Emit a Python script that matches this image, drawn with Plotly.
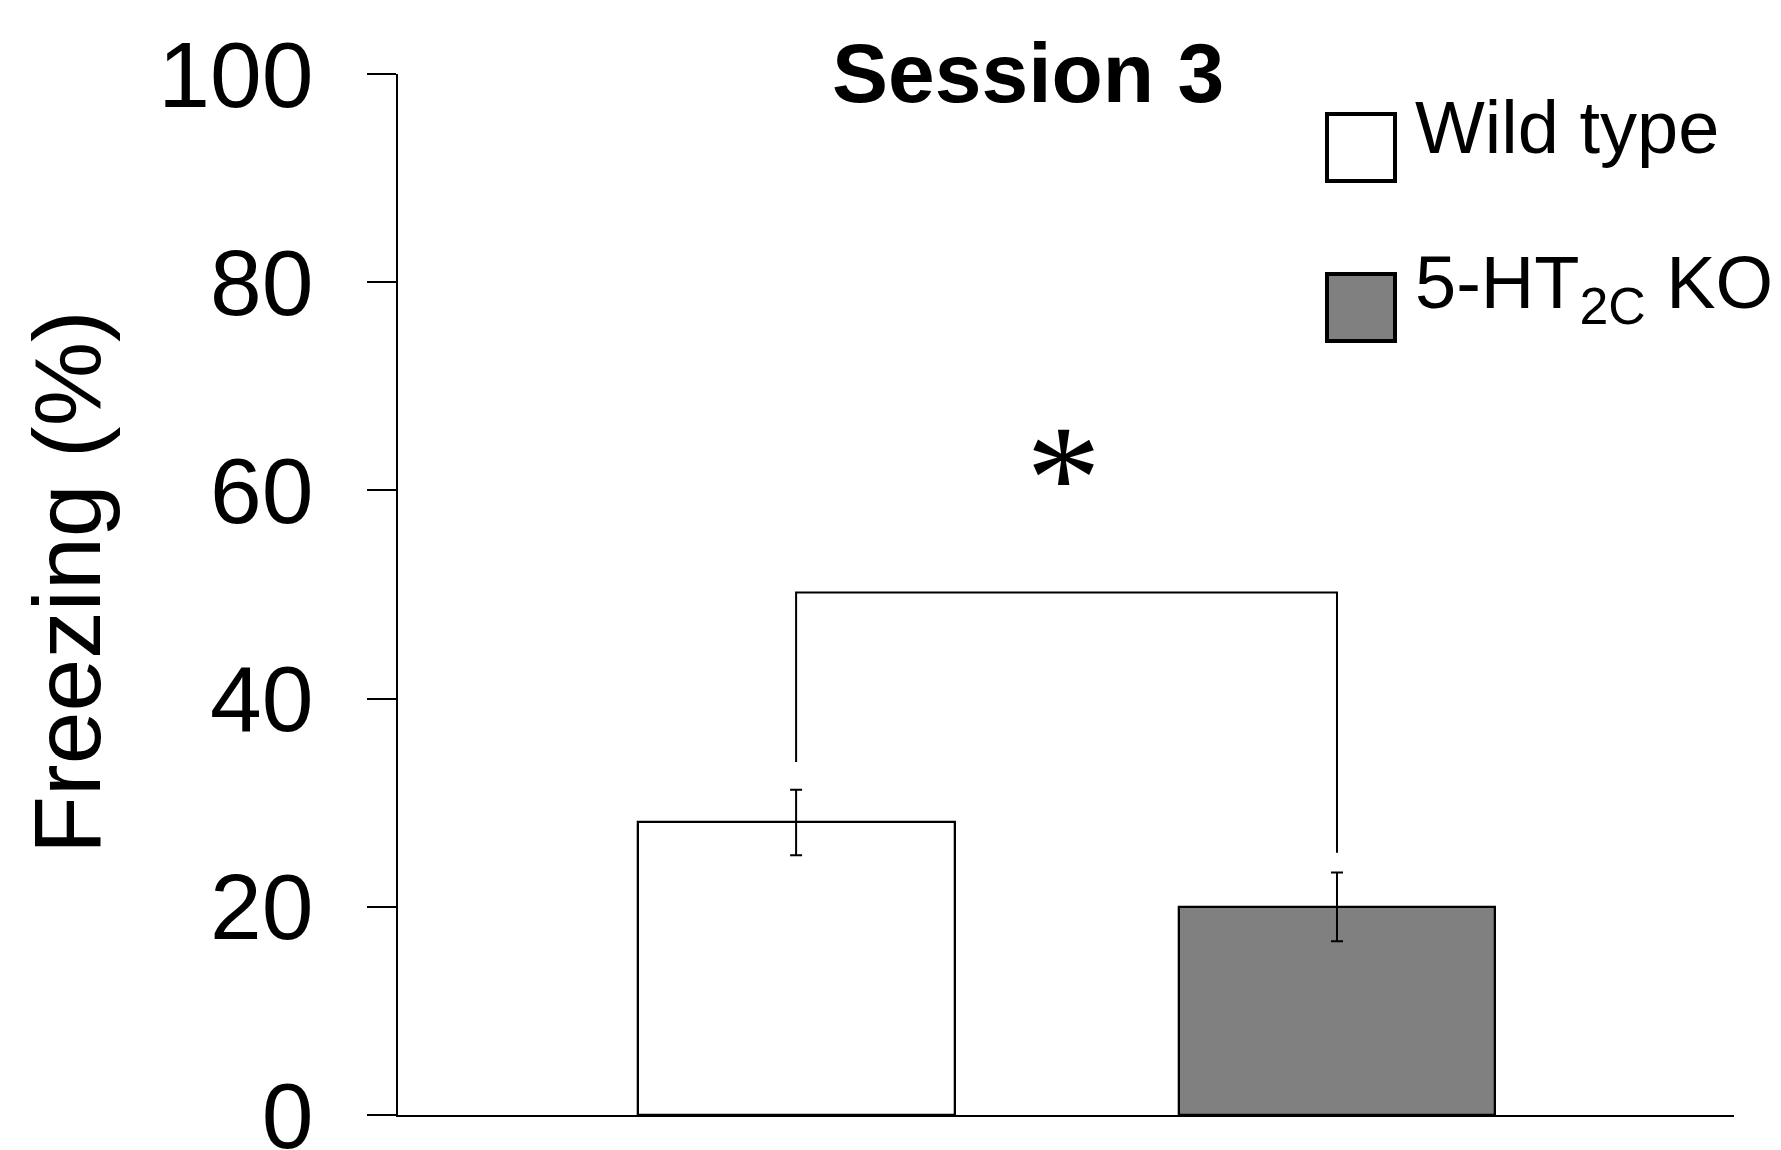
import plotly.graph_objects as go

# ---- data ----
groups = ["Wild type", "5-HT<sub>2C</sub> KO"]
group_pos = [0, 1]
freezing_mean = [28.1, 20.0]
freezing_sem = [3.15, 3.3]
bar_colors = ["#ffffff", "#808080"]
bracket_x = [0, 0, 1, 1]
bracket_y = [33.9, 50.2, 50.2, 25.2]
y_ticks = [0, 20, 40, 60, 80, 100]

FONT = "Liberation Sans, Arial, sans-serif"
W, H = 1781, 1150
OFF = 8  # page body margin
L, R, T, B = 390, 55, 66, 43
PW, PH = W - L - R, H - T - B
X0 = OFF + L          # page x of plot left
Y1 = OFF + H - B      # page y of plot bottom


def px(xp):
    return (xp - X0) / PW


def py(yp):
    return (Y1 - yp) / PH


fig = go.Figure()
for i in range(2):
    fig.add_trace(go.Bar(
        x=[group_pos[i]], y=[freezing_mean[i]], width=0.586,
        marker=dict(color=bar_colors[i], line=dict(color="black", width=2.3)),
        error_y=dict(type="data", array=[freezing_sem[i]], color="black",
                     thickness=2, width=6),
        name=groups[i], showlegend=False,
    ))

fig.add_trace(go.Scatter(
    x=bracket_x, y=bracket_y, mode="lines",
    line=dict(color="black", width=2), showlegend=False, hoverinfo="skip",
))

shapes = []
anns = []
# legend boxes and labels
box_y = [(114, 181), (274, 341)]
for i in range(2):
    y0p, y1p = box_y[i]
    shapes.append(dict(type="rect", xref="paper", yref="paper",
                       x0=px(1327), x1=px(1395), y0=py(y1p), y1=py(y0p),
                       line=dict(color="black", width=4),
                       fillcolor=bar_colors[i]))
    anns.append(dict(xref="paper", yref="paper", x=px(1413),
                     y=py((y0p + y1p) / 2 - 20), xanchor="left", yanchor="middle",
                     text=groups[i], showarrow=False,
                     font=dict(family=FONT, size=74, color="black")))

# significance asterisk
anns.append(dict(xref="x", yref="y", x=0.494, y=61.3, text="*", showarrow=False,
                 xanchor="center", yanchor="middle",
                 font=dict(family="Liberation Serif, Times New Roman, serif",
                           size=150, color="black")))
# title
anns.append(dict(xref="paper", yref="paper", x=px(1028), y=py(73),
                 text="<b>Session 3</b>", showarrow=False,
                 xanchor="center", yanchor="middle",
                 font=dict(family=FONT, size=84, color="black")))
# y axis title
anns.append(dict(xref="paper", yref="paper", x=px(67), y=py(582),
                 text="Freezing (%)", showarrow=False, textangle=-90,
                 xanchor="center", yanchor="middle",
                 font=dict(family=FONT, size=95, color="black")))

fig.update_layout(
    width=W, height=H,
    margin=dict(l=L, r=R, t=T, b=B, autoexpand=False),
    paper_bgcolor="white", plot_bgcolor="white",
    bargap=0, shapes=shapes, annotations=anns,
    font=dict(family=FONT, color="black"),
)
fig.update_xaxes(range=[-0.736, 1.734], showline=True, linecolor="black",
                 linewidth=2, showticklabels=False, ticks="", showgrid=False,
                 zeroline=False, automargin=False)
fig.update_yaxes(range=[0, 100], tickvals=y_ticks, showline=True,
                 linecolor="black", linewidth=2, ticks="outside", ticklen=29,
                 tickwidth=2, tickcolor="black", showgrid=False, zeroline=False,
                 tickfont=dict(family=FONT, size=93, color="black"),
                 ticklabelstandoff=35, ticklabeloverflow="allow",
                 automargin=False)

fig.write_html("out.html")
